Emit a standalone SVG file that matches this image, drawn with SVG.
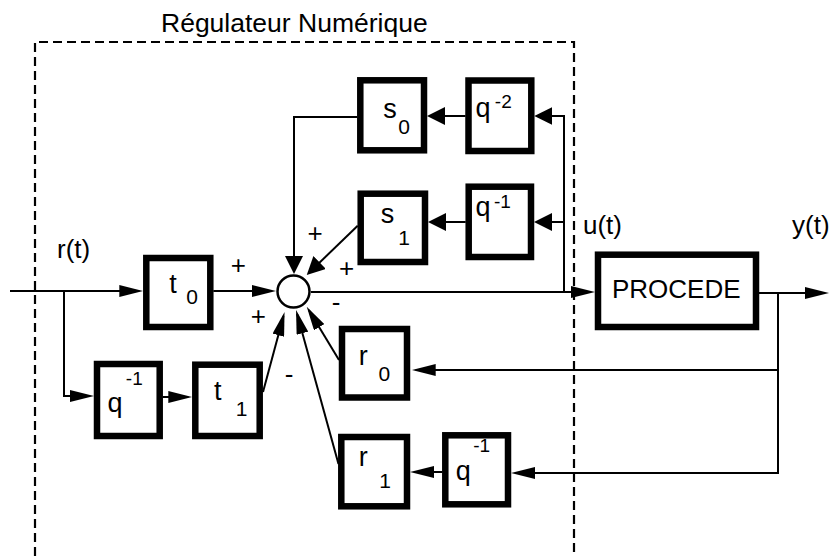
<svg xmlns="http://www.w3.org/2000/svg" width="829" height="556" viewBox="0 0 829 556">
<style>
  .box { fill: #fff; stroke: #000; stroke-width: 6.5; }
  .ln { fill: none; stroke: #000; stroke-width: 2; }
  .frame { fill: none; stroke: #000; stroke-width: 2.2; stroke-dasharray: 9 5; }
  text { font-family: "Liberation Sans", Arial, sans-serif; fill: #000; }
  .m { font-size: 27px; text-anchor: middle; }
  .s { font-size: 21px; text-anchor: middle; }
  .e { font-size: 19px; text-anchor: middle; }
  .lbl { font-size: 26px; }
  .sg { font-size: 26px; text-anchor: middle; }
</style>
<defs>
  <marker id="ab" markerUnits="userSpaceOnUse" markerWidth="18" markerHeight="18" refX="14" refY="9" orient="auto" viewBox="0 0 18 18">
    <path d="M0,0 L18,9 L0,18 z" fill="#000"/>
  </marker>
  <marker id="al" markerUnits="userSpaceOnUse" markerWidth="24" markerHeight="12" refX="20" refY="6" orient="auto" viewBox="0 0 24 12">
    <path d="M0,0 L24,6 L0,12 z" fill="#000"/>
  </marker>
</defs>

<path class="frame" d="M35,556 V42 H574 V556"/>
<text class="lbl" x="161" y="32" style="font-size:26.5px">Régulateur Numérique</text>
<text class="lbl" x="57" y="258">r(t)</text>
<text class="lbl" x="583" y="233.5">u(t)</text>
<text class="lbl" x="792" y="233.5">y(t)</text>

<g id="connectors">
  <path class="ln" d="M10,291 H139.3" marker-end="url(#al)"/>
  <path class="ln" d="M64,291 V396 H90" marker-end="url(#al)"/>
  <path class="ln" d="M162.7,397 H188.3" marker-end="url(#al)"/>
  <path class="ln" d="M213.3,291 H272" marker-end="url(#al)"/>
  <path class="ln" d="M263,392 L283.5,315.9" marker-end="url(#al)"/>
  <path class="ln" d="M311,292 H591" marker-end="url(#al)"/>
  <path class="ln" d="M759,293 H825" marker-end="url(#al)"/>
  <path class="ln" d="M778,293 V474"/>
  <path class="ln" d="M778,370 H415.7" marker-end="url(#al)"/>
  <path class="ln" d="M778,473 H515" marker-end="url(#al)"/>
  <path class="ln" d="M442.3,472 H414" marker-end="url(#al)"/>
  <path class="ln" d="M339,360 L308.8,310.1" marker-end="url(#al)"/>
  <path class="ln" d="M338.5,464 L297.1,313.9" marker-end="url(#al)"/>
  <path class="ln" d="M357.7,225.7 L309.6,272.2" marker-end="url(#ab)"/>
  <path class="ln" d="M357.3,117 H294 V270" marker-end="url(#ab)"/>
  <path class="ln" d="M465.5,116 H431" marker-end="url(#ab)"/>
  <path class="ln" d="M465.7,222 H432" marker-end="url(#ab)"/>
  <path class="ln" d="M564,292 V116 H538.3" marker-end="url(#ab)"/>
  <path class="ln" d="M564,222 H538" marker-end="url(#ab)"/>
</g>

<g id="sum">
  <circle cx="293.5" cy="291.5" r="16" fill="#fff" stroke="#000" stroke-width="2.5"/>
  <text class="sg" x="315" y="242">+</text>
  <text class="sg" x="346.7" y="277">+</text>
  <text class="sg" x="238.3" y="274">+</text>
  <text class="sg" x="258.3" y="325.3">+</text>
  <text class="sg" x="336.2" y="311">-</text>
  <text class="sg" x="289" y="382.6">-</text>
</g>

<g id="s0">
  <rect class="box" x="360.3" y="80.3" width="63.7" height="70"/>
  <text class="m" x="390" y="117.5">s</text>
  <text class="s" x="404" y="134">0</text>
</g>
<g id="q2">
  <rect class="box" x="468.5" y="80.5" width="62.8" height="70.5"/>
  <text class="m" x="483" y="116.5">q</text>
  <text class="e" x="503.3" y="108">-2</text>
</g>
<g id="s1">
  <rect class="box" x="360.7" y="193.7" width="64.3" height="68.3"/>
  <text class="m" x="387.5" y="222.7">s</text>
  <text class="s" x="404" y="245">1</text>
</g>
<g id="q1a">
  <rect class="box" x="468.7" y="186.7" width="62.3" height="70.3"/>
  <text class="m" x="483" y="216">q</text>
  <text class="e" x="502.5" y="208.3">-1</text>
</g>
<g id="t0">
  <rect class="box" x="146.3" y="258" width="64" height="69"/>
  <text class="m" x="173" y="293">t</text>
  <text class="s" x="192" y="304">0</text>
</g>
<g id="q1b">
  <rect class="box" x="97" y="364" width="62.7" height="72"/>
  <text class="m" x="115" y="411.7">q</text>
  <text class="e" x="134.3" y="384.5">-1</text>
</g>
<g id="t1">
  <rect class="box" x="195.3" y="364.7" width="64.4" height="71.3"/>
  <text class="m" x="217.7" y="400">t</text>
  <text class="s" x="241.7" y="415.7">1</text>
</g>
<g id="r0">
  <rect class="box" x="342" y="329" width="65" height="68.5"/>
  <text class="m" x="363.3" y="365">r</text>
  <text class="s" x="384.3" y="380.7">0</text>
</g>
<g id="r1">
  <rect class="box" x="341.3" y="437" width="65.7" height="69.3"/>
  <text class="m" x="363.3" y="466">r</text>
  <text class="s" x="385" y="488">1</text>
</g>
<g id="q1c">
  <rect class="box" x="445.3" y="435.3" width="62.7" height="69"/>
  <text class="m" x="463.3" y="480">q</text>
  <text class="e" x="481.7" y="451.7">-1</text>
</g>
<g id="procede">
  <rect class="box" x="598" y="254.7" width="158" height="72.3"/>
  <text class="lbl" x="676.3" y="298" text-anchor="middle">PROCEDE</text>
</g>
</svg>
